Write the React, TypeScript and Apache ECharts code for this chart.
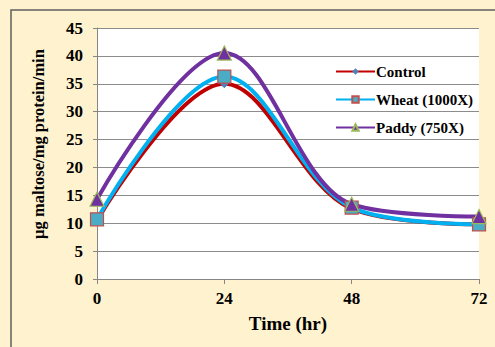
import React, { useEffect, useRef } from "react";
import * as echarts from "echarts";

const times = [0, 24, 48, 72];
const xTicks = ["0", "24", "48", "72"];
const control = [10.5, 35.0, 12.6, 9.8];
const wheat = [10.7, 36.3, 12.8, 9.8];
const paddy = [14.3, 40.5, 13.4, 11.2];
const seriesNames = ["Control", "Wheat (1000X)", "Paddy (750X)"];
const yTitle = "µg maltose/mg protein/min";
const xTitle = "Time (hr)";

const FONT = "Liberation Serif";

export default function App() {
  const ref = useRef<HTMLDivElement>(null);
  useEffect(() => {
    if (!ref.current) return;
    const chart = echarts.init(ref.current, null, { renderer: "svg" });
    const pair = (arr: number[]) => times.map((t, i) => [t, arr[i]]);
    chart.setOption({
      animation: false,
      backgroundColor: "#FFF2CF",
      graphic: [
        {
          type: "rect",
          shape: { x: 11, y: 10, width: 520, height: 400 },
          style: { fill: "none", stroke: "#5F5F5F", lineWidth: 1.5 },
          silent: true,
        },
        {
          type: "text",
          x: 38,
          y: 144,
          rotation: Math.PI / 2,
          style: {
            text: yTitle,
            fontFamily: FONT,
            fontWeight: "bold",
            fontSize: 16.5,
            fill: "#000",
            align: "center",
            verticalAlign: "middle",
          },
          silent: true,
        },
      ],
      grid: { left: 97, top: 28, width: 382, height: 251, backgroundColor: "#FFFFFF", show: true, borderWidth: 0 },
      legend: {
        left: 330,
        top: 59,
        orient: "vertical",
        itemWidth: 39,
        itemHeight: 8,
        itemGap: 13,
        textStyle: { fontFamily: FONT, fontWeight: "bold", fontSize: 15, color: "#000", padding: [0, 0, 0, -4] },
        data: seriesNames,
      },
      xAxis: {
        type: "value",
        min: 0,
        max: 72,
        interval: 24,
        name: xTitle,
        nameLocation: "middle",
        nameGap: 35,
        nameTextStyle: { fontFamily: FONT, fontWeight: "bold", fontSize: 19, color: "#000" },
        axisLine: { lineStyle: { color: "#868686" } },
        axisTick: { show: true, length: 5, lineStyle: { color: "#868686" } },
        splitLine: { show: false },
        axisLabel: {
          fontFamily: FONT,
          fontWeight: "bold",
          fontSize: 17,
          color: "#000",
          margin: 11,
          formatter: (v: number) => xTicks[times.indexOf(v)] ?? "",
        },
      },
      yAxis: {
        type: "value",
        min: 0,
        max: 45,
        interval: 5,
        axisLine: { show: true, lineStyle: { color: "#868686" } },
        axisTick: { show: true, length: 4, lineStyle: { color: "#868686" } },
        splitLine: { lineStyle: { color: "#8C8C8C", width: 1 } },
        axisLabel: { fontFamily: FONT, fontWeight: "bold", fontSize: 17, color: "#000", margin: 14 },
      },
      series: [
        {
          name: seriesNames[0],
          type: "line",
          smooth: 0.35,
          data: pair(control),
          symbol: "diamond",
          symbolSize: 8,
          lineStyle: { color: "#C00000", width: 4 },
          itemStyle: { color: "#4F81BD", borderColor: "#4F81BD" },
        },
        {
          name: seriesNames[1],
          type: "line",
          smooth: 0.35,
          data: pair(wheat),
          symbol: "rect",
          symbolSize: 13,
          lineStyle: { color: "#00B0F0", width: 4 },
          itemStyle: { color: "#4BACC6", borderColor: "#C0504D", borderWidth: 1.2 },
        },
        {
          name: seriesNames[2],
          type: "line",
          smooth: 0.35,
          data: pair(paddy),
          symbol: "triangle",
          symbolSize: 14,
          lineStyle: { color: "#7030A0", width: 4 },
          itemStyle: { color: "#7030A0", borderColor: "#9BBB59", borderWidth: 1.2 },
        },
      ],
    });
    return () => chart.dispose();
  }, []);
  return <div ref={ref} style={{ position: "fixed", left: 0, top: 0, width: 495, height: 347 }} />;
}
